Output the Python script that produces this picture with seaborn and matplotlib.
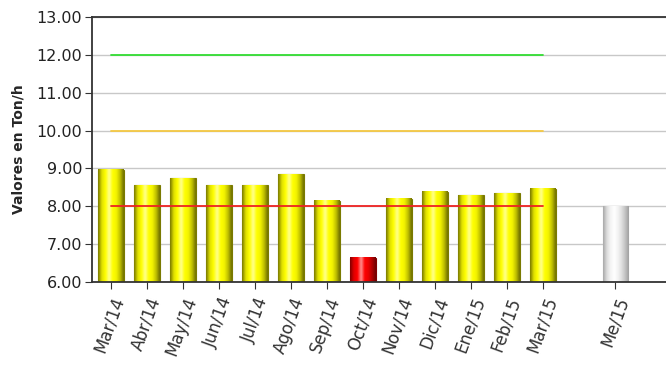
"""
Valores en Ton/h por mes, barras con referencias
"""
import numpy as np
import pandas as pd
import seaborn as sns
import matplotlib.pyplot as plt
from matplotlib.colors import LinearSegmentedColormap

meses = ["Mar/14", "Abr/14", "May/14", "Jun/14", "Jul/14", "Ago/14", "Sep/14",
         "Oct/14", "Nov/14", "Dic/14", "Ene/15", "Feb/15", "Mar/15", "Me/15"]
posicion = [0, 1, 2, 3, 4, 5, 6, 7, 8, 9, 10, 11, 12, 14]
valores = [8.97, 8.56, 8.74, 8.56, 8.56, 8.84, 8.15, 6.64, 8.20, 8.39, 8.29, 8.34, 8.47, 8.0]
tipo = ["ok"] * 7 + ["bajo"] + ["ok"] * 5 + ["media"]

ref_meta = 12.0
ref_alta = 10.0
ref_min = 8.0
y_min, y_max = 6, 13

# gradientes para simular barras cilindricas
grad = {
    "ok": ["#7a7a00", "#e0e000", "#ffff00", "#ffff90", "#ffff00", "#f2f200", "#c0c000", "#707000"],
    "bajo": ["#800000", "#e00000", "#ff0000", "#ff9090", "#ff0000", "#e80000", "#b00000", "#700000"],
    "media": ["#a8a8a8", "#dcdcdc", "#f4f4f4", "#ffffff", "#f4f4f4", "#e0e0e0", "#c4c4c4", "#a0a0a0"],
}
borde = {"ok": "#7a7a00", "bajo": "#800000", "media": "#b0b0b0"}

df = pd.DataFrame({"mes": meses, "pos": posicion, "valor": valores, "tipo": tipo})

sns.set_style("white")
plt.rcParams["font.family"] = ["DejaVu Sans"]

fig = plt.figure(figsize=(6.66, 3.66), dpi=100)
ax = fig.add_axes([0.138, 0.2295, 0.87, 0.724])

sns.barplot(data=df, x="pos", y="valor", native_scale=True, width=0.72,
            color="#ffff00", ax=ax, zorder=2)

for patch, t in zip(ax.patches, df["tipo"]):
    x0, y0 = patch.get_x(), patch.get_y()
    w, h = patch.get_width(), patch.get_height()
    patch.set_facecolor("none")
    patch.set_edgecolor(borde[t])
    patch.set_linewidth(0.8)
    cmap = LinearSegmentedColormap.from_list(t, grad[t])
    img = ax.imshow(np.linspace(0, 1, 64).reshape(1, -1), cmap=cmap, aspect="auto",
                    extent=[x0, x0 + w, max(y0, y_min), y0 + h], zorder=2,
                    interpolation="bicubic")

ultimo = posicion[12]
sns.lineplot(x=[posicion[0], ultimo], y=[ref_meta] * 2, color="#33dd33", lw=1.3, ax=ax, zorder=3)
sns.lineplot(x=[posicion[0], ultimo], y=[ref_alta] * 2, color="#f5c842", lw=1.3, ax=ax, zorder=3)
sns.lineplot(x=[posicion[0], ultimo], y=[ref_min] * 2, color="#ee2222", lw=1.3, ax=ax, zorder=3)

ax.set_xlim(-0.53, 15.55)
ax.set_ylim(y_min, y_max)
ax.set_yticks(np.arange(y_min, y_max + 0.5, 1))
ax.set_yticklabels([f"{v:.2f}" for v in np.arange(y_min, y_max + 0.5, 1)],
                   fontsize=11.5, color="#222222")
ax.set_xticks(posicion)
ax.set_xticklabels(meses, rotation=70, ha="right", rotation_mode="anchor",
                   fontsize=12, color="#333333")
ax.yaxis.grid(True, color="#c8c8c8", lw=1)
ax.set_axisbelow(True)
ax.tick_params(axis="x", length=5, color="#333333", direction="out", bottom=True, pad=4)
ax.tick_params(axis="y", length=5, color="#333333", left=True, pad=2)
for s in ["left", "bottom", "top"]:
    ax.spines[s].set_color("#333333")
    ax.spines[s].set_linewidth(1.3)
ax.spines["right"].set_visible(False)

ax.set_xlabel("")
ax.set_ylabel("Valores en Ton/h", fontsize=10, fontweight="bold", labelpad=8)

plt.savefig("out.png", dpi=100)
